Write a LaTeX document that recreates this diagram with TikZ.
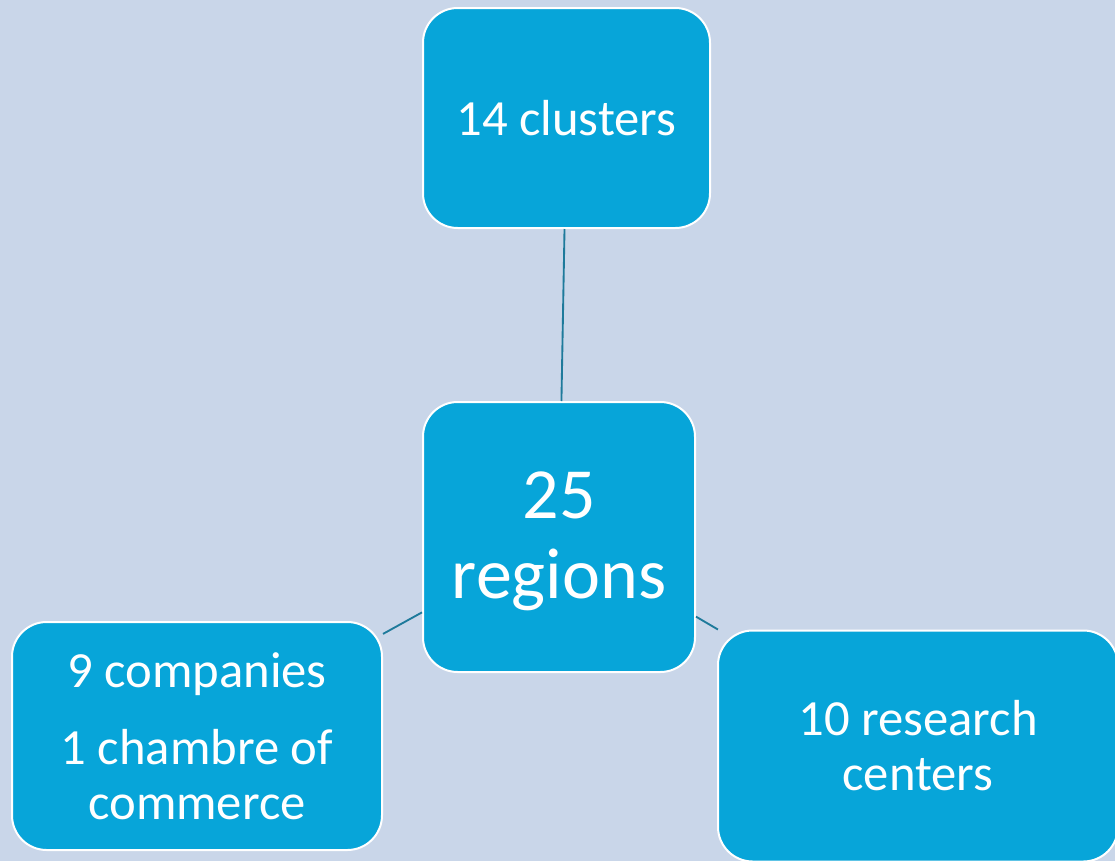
\documentclass[tikz,border=0pt]{standalone}
\usepackage{xcolor}
\usepackage{fontspec}
\setmainfont{Carlito}
\usepackage{tikz}

\definecolor{bgblue}{RGB}{201,214,233}
\definecolor{boxblue}{RGB}{7,165,217}
\definecolor{linkteal}{RGB}{30,122,155}

\begin{document}
\begin{tikzpicture}[x=0.75pt,y=0.75pt,yscale=-1,xscale=1,
  box/.style={draw=white,line width=1.5pt,fill=boxblue,rounded corners=26pt,
    text=white,align=center,inner sep=0pt},
  link/.style={draw=linkteal,line width=1.4pt}]
%Background
\fill[bgblue] (0,0) rectangle (1115,861);
\useasboundingbox (0,0) rectangle (1115,861);

%Shape: Rounded Rect [id:hub]
\node[box,minimum width=204pt,minimum height=202.5pt,
  font=\fontsize{54}{60}\selectfont] (hub) at (559,537) {\rule{0pt}{42pt}25\\regions};
%Shape: Rounded Rect [id:clusters]
\node[box,minimum width=215.25pt,minimum height=165pt,
  font=\fontsize{38}{41.25}\selectfont] (clusters) at (566.5,118) {14 clusters};
%Shape: Rounded Rect [id:companies]
\node[box,minimum width=277.5pt,minimum height=171pt,
  font=\fontsize{38}{41.25}\selectfont] (companies) at (197,736)
  {9 companies\\[16.5pt]1 chambre of\\commerce};
%Shape: Rounded Rect [id:research]
\node[box,minimum width=300pt,minimum height=173.25pt,
  font=\fontsize{38}{41.25}\selectfont] (research) at (918,746)
  {10 research\\centers};

%Straight Lines
\draw[link] (hub) -- (clusters);
\draw[link] (hub) -- (companies);
\draw[link] (hub) -- (research);
\end{tikzpicture}
\end{document}
